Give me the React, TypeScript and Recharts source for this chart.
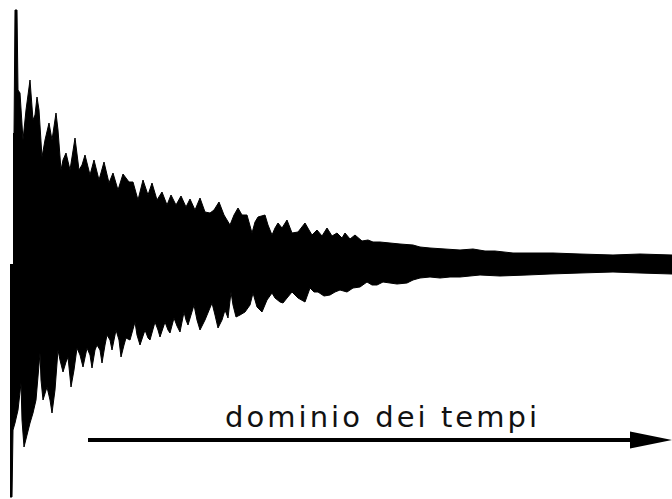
import React from "react";
import { ComposedChart, Area, XAxis, YAxis, ReferenceLine } from "recharts";

// time (ms) and amplitude
const upperTime = [3, 4, 5, 7, 8, 10, 13, 16, 20, 23, 25, 27, 29, 32, 35, 39, 42, 46, 48, 51, 53, 56, 60, 65, 69, 72, 75, 80, 84, 89, 94, 99, 103, 108, 113, 119, 123, 128, 133, 138, 142, 147, 152, 157, 161, 166, 171, 176, 180, 185, 190, 195, 200, 204, 209, 214, 220, 224, 228, 232, 237, 242, 245, 248, 255, 258, 262, 265, 268, 272, 277, 282, 288, 295, 299, 302, 307, 312, 317, 322, 327, 332, 335, 340, 345, 352, 358, 363, 370, 380, 390, 403, 410, 420, 435, 450, 463, 475, 485, 503, 520, 543, 570, 603, 630, 662];
const upperAmp = [130, 131, 254, 254, 174, 171, 124, 154, 184, 144, 149, 167, 154, 107, 124, 141, 124, 151, 134, 94, 104, 111, 94, 126, 94, 99, 109, 89, 104, 84, 102, 81, 91, 74, 90, 82, 82, 64, 84, 69, 81, 64, 72, 59, 69, 59, 68, 57, 65, 54, 66, 52, 51, 54, 62, 49, 39, 49, 56, 49, 49, 31, 42, 47, 49, 39, 29, 36, 41, 36, 44, 31, 32, 41, 34, 29, 34, 28, 36, 28, 31, 26, 31, 25, 29, 23, 24, 22, 22, 21, 20, 19, 17, 16, 15, 14, 15, 13, 13, 11, 11, 11, 10, 9, 10, 9];

const lowerTime = [0, 2, 3, 5, 8, 11, 12, 14, 17, 20, 23, 26, 30, 31, 33, 37, 40, 42, 45, 48, 50, 53, 56, 58, 61, 64, 67, 70, 73, 77, 80, 82, 85, 87, 90, 92, 95, 97, 100, 102, 106, 109, 111, 114, 116, 120, 125, 127, 130, 135, 138, 140, 145, 148, 150, 155, 158, 160, 164, 167, 170, 174, 176, 178, 184, 187, 190, 195, 202, 205, 208, 212, 215, 218, 221, 223, 226, 230, 235, 240, 243, 245, 247, 252, 257, 262, 265, 270, 273, 277, 282, 288, 295, 300, 304, 308, 314, 320, 325, 330, 337, 343, 350, 357, 362, 367, 373, 380, 387, 397, 403, 410, 420, 430, 440, 450, 460, 470, 490, 517, 540, 570, 603, 630, 662];
const lowerAmp = [-233, -233, -166, -159, -146, -119, -156, -183, -171, -159, -149, -136, -89, -116, -136, -123, -136, -149, -126, -86, -96, -108, -98, -93, -123, -106, -84, -91, -103, -84, -91, -104, -86, -81, -86, -99, -81, -71, -76, -86, -66, -76, -93, -81, -74, -76, -58, -71, -81, -66, -74, -76, -58, -66, -73, -58, -66, -69, -54, -62, -68, -48, -56, -61, -41, -56, -66, -56, -39, -51, -64, -56, -46, -54, -28, -41, -53, -51, -48, -41, -29, -36, -43, -48, -36, -29, -34, -38, -39, -34, -28, -34, -38, -24, -28, -28, -32, -31, -28, -26, -28, -24, -23, -18, -21, -21, -18, -19, -20, -19, -16, -14, -13, -14, -13, -13, -12, -11, -12, -11, -10, -9, -8, -9, -10];

const axisTitle = "dominio dei tempi";
const arrowStart = 78;
const arrowEnd = 662;
const arrowLevel = -176;

const upper = upperTime.map((t, i) => ({ t, a: upperAmp[i] }));
const lower = lowerTime.map((t, i) => ({ t, a: lowerAmp[i] }));

const ArrowShape = (props: any) => {
  const { x1, y1, x2 } = props;
  const y = y1;
  const headLen = 42;
  const headHalf = 8.5;
  return (
    <g>
      <line x1={x1} y1={y} x2={x2 - headLen + 2} y2={y} stroke="#000" strokeWidth={4} />
      <polygon
        points={`${x2 - headLen},${y - headHalf} ${x2},${y} ${x2 - headLen},${y + headHalf}`}
        fill="#000"
      />
      <text
        x={(x1 + x2) / 2 + 1}
        y={y - 13}
        textAnchor="middle"
        fontFamily="'DejaVu Sans', sans-serif"
        fontWeight={400}
        fontSize={29}
        fill="#111"
        textLength={312}
        lengthAdjust="spacing"
      >
        {axisTitle}
      </text>
    </g>
  );
};

export default function App() {
  return (
    <div style={{ position: "absolute", left: 0, top: 0, width: 672, height: 499, background: "#fff" }}>
      <ComposedChart width={672} height={499} margin={{ top: 0, right: 0, bottom: 0, left: 0 }}>
        <XAxis type="number" dataKey="t" domain={[-10, 662]} hide allowDataOverflow />
        <YAxis type="number" domain={[-235, 264]} hide allowDataOverflow />
        <Area
          data={upper}
          dataKey="a"
          type="linear"
          stroke="#000"
          strokeWidth={1}
          fill="#000"
          fillOpacity={1}
          baseValue={0}
          dot={false}
          activeDot={false}
          isAnimationActive={false}
        />
        <Area
          data={lower}
          dataKey="a"
          type="linear"
          stroke="#000"
          strokeWidth={1}
          fill="#000"
          fillOpacity={1}
          baseValue={0}
          dot={false}
          activeDot={false}
          isAnimationActive={false}
        />
        <ReferenceLine
          segment={[
            { x: arrowStart, y: arrowLevel },
            { x: arrowEnd, y: arrowLevel },
          ]}
          shape={ArrowShape}
        />
      </ComposedChart>
    </div>
  );
}
